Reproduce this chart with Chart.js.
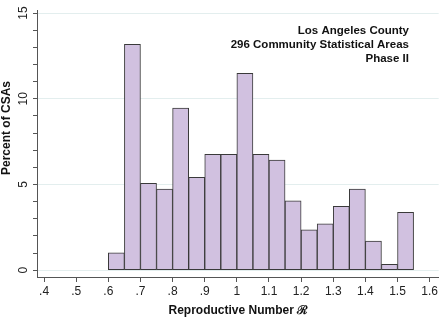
<!DOCTYPE html>
<html>
<head>
<meta charset="utf-8">
<script src="https://cdn.jsdelivr.net/npm/chart.js@4/dist/chart.umd.min.js"></script>
<style>
  html, body { margin: 0; padding: 0; background: #fff; }
</style>
</head>
<body>
<canvas id="chart" width="440" height="318"></canvas>
<script>
// histogram bins (centre of each 0.05 wide bin) and percent of the 296 CSAs
const binCenters = [0.625, 0.675, 0.725, 0.775, 0.825, 0.875, 0.925, 0.975, 1.025, 1.075,
                    1.125, 1.175, 1.225, 1.275, 1.325, 1.375, 1.425, 1.475, 1.525];
const percentCSAs = [1.01, 13.18, 5.07, 4.73, 9.46, 5.41, 6.76, 6.76, 11.49, 6.76,
                     6.42, 4.05, 2.36, 2.70, 3.72, 4.73, 1.69, 0.34, 3.38];

const xTicks = [0.4, 0.5, 0.6, 0.7, 0.8, 0.9, 1.0, 1.1, 1.2, 1.3, 1.4, 1.5, 1.6];
const xTickLabels = ['.4', '.5', '.6', '.7', '.8', '.9', '1', '1.1', '1.2', '1.3', '1.4', '1.5', '1.6'];
const yTicks = [0, 1, 2, 3, 4, 5, 6, 7, 8, 9, 10, 11, 12, 13, 14, 15];
const yLabelled = [0, 5, 10, 15];

const noteLines = ['Los Angeles County', '296 Community Statistical Areas', 'Phase II'];
const xTitle = 'Reproductive Number \u211B';
const yTitle = 'Percent of CSAs';

const fontFamily = '"Liberation Sans", Arial, Helvetica, sans-serif';

// y title and the note in the top right corner
const textPlugin = {
  id: 'texts',
  afterDraw(chart) {
    const ctx = chart.ctx;
    ctx.save();
    ctx.fillStyle = '#111';
    ctx.font = 'bold 12px ' + fontFamily;
    ctx.translate(10, 128);
    ctx.rotate(-Math.PI / 2);
    ctx.textAlign = 'center';
    ctx.textBaseline = 'alphabetic';
    ctx.fillText(yTitle, 0, 0);
    ctx.restore();

    ctx.save();
    ctx.fillStyle = '#111';
    ctx.font = 'bold 11.5px ' + fontFamily;
    ctx.textAlign = 'right';
    ctx.textBaseline = 'alphabetic';
    noteLines.forEach((line, i) => {
      ctx.fillText(line, 409, 34 + i * 14);
    });
    ctx.restore();
  }
};

new Chart('chart', {
  type: 'bar',
  data: {
    datasets: [{
      data: binCenters.map((x, i) => ({ x: x, y: percentCSAs[i] })),
      backgroundColor: '#d1c1e0',
      borderColor: '#3a3a3a',
      borderWidth: 1,
      borderSkipped: false,
      barPercentage: 1,
      categoryPercentage: 1
    }]
  },
  options: {
    responsive: false,
    animation: false,
    devicePixelRatio: 1,
    layout: { padding: { top: 5, right: 0, left: 0, bottom: 0 } },
    plugins: {
      legend: { display: false },
      tooltip: { enabled: false }
    },
    scales: {
      x: {
        type: 'linear',
        offset: false,
        min: 0.378,
        max: 1.628,
        afterBuildTicks: scale => {
          scale.ticks = xTicks.map(v => ({ value: v }));
        },
        afterFit: scale => {
          scale.height = 41;
        },
        ticks: {
          autoSkip: false,
          maxRotation: 0,
          padding: 2,
          color: '#222',
          font: { family: fontFamily, size: 12 },
          callback: (value, index) => xTickLabels[index]
        },
        grid: {
          offset: false,
          drawOnChartArea: false,
          tickLength: 5,
          tickColor: '#555'
        },
        border: { color: '#555', width: 1 },
        title: {
          display: true,
          text: xTitle,
          color: '#111',
          padding: { top: 0, bottom: 0 },
          font: { family: fontFamily, size: 12, weight: 'bold' }
        }
      },
      y: {
        type: 'linear',
        min: -0.4,
        max: 15.17,
        afterBuildTicks: scale => {
          scale.ticks = yTicks.map(v => ({ value: v }));
        },
        afterFit: scale => {
          scale.width = 37;
        },
        ticks: {
          autoSkip: false,
          minRotation: 90,
          maxRotation: 90,
          crossAlign: 'center',
          padding: 3,
          color: '#222',
          font: { family: fontFamily, size: 12 },
          callback: value => (yLabelled.includes(value) ? String(value) : '')
        },
        grid: {
          color: ctx => (ctx.tick && yLabelled.includes(ctx.tick.value) ? '#e3eeee' : 'rgba(0,0,0,0)'),
          tickLength: 4,
          tickColor: '#555'
        },
        border: { color: '#555', width: 1 }
      }
    }
  },
  plugins: [textPlugin]
});
</script>
</body>
</html>
